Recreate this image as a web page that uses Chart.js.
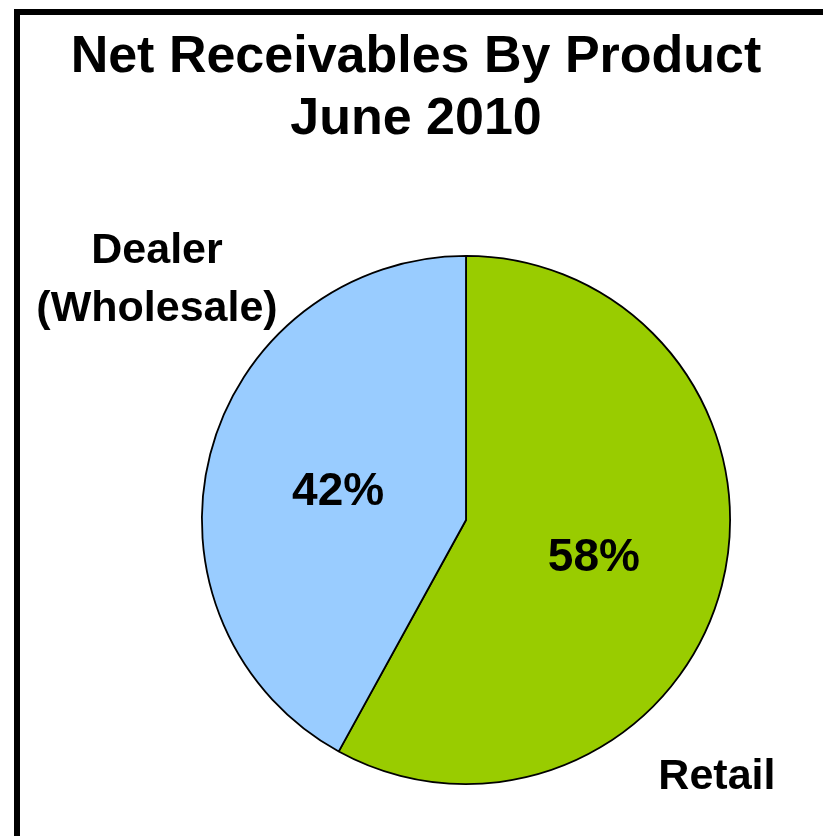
<!DOCTYPE html>
<html>
<head>
<meta charset="utf-8">
<script src="https://cdn.jsdelivr.net/npm/chart.js@4"></script>
<style>
  html, body { margin: 0; padding: 0; background: #fff; }
  #wrap { position: relative; width: 823px; height: 836px; overflow: hidden; }
  #frame { position: absolute; left: 14px; top: 9px; width: 900px; height: 900px;
           border-left: 6px solid #000; border-top: 6px solid #000; box-sizing: border-box; }
  canvas { position: absolute; left: 0; top: 0; }
</style>
</head>
<body>
<div id="wrap">
  <div id="frame"></div>
  <canvas id="pie" width="823" height="836"></canvas>
</div>
<script>
// Net receivables split, June 2010
const titleLines = ['Net Receivables By Product', 'June 2010'];
const products = ['Retail', 'Dealer (Wholesale)'];
const productLabels = [['Retail'], ['Dealer', '(Wholesale)']];
const shares = [58, 42];
const colors = ['#99CC00', '#99CCFF'];

const FONT = '"Liberation Sans", Arial, Helvetica, sans-serif';

// outside label anchors, as fractions of the pie radius from its centre
const labelOffsets = [
  { dx: 0.95, dy: 0.96 },
  { dx: -1.17, dy: -0.92 }
];

const textPlugin = {
  id: 'pieText',
  afterDraw(chart) {
    const c = chart.ctx;
    const meta = chart.getDatasetMeta(0);
    const arc0 = meta.data[0];
    const cx = arc0.x, cy = arc0.y, r = arc0.outerRadius;
    c.save();
    c.fillStyle = '#000';
    c.textAlign = 'center';
    c.textBaseline = 'alphabetic';

    // title
    c.font = 'bold 52px ' + FONT;
    c.fillText(titleLines[0], 416, 72);
    c.fillText(titleLines[1], 416, 134);

    // percentages inside the slices
    c.font = 'bold 46px ' + FONT;
    meta.data.forEach((arc, i) => {
      const p = arc.getCenterPoint();
      c.fillText(shares[i] + '%', p.x, p.y + 18);
    });

    // category names outside
    c.font = 'bold 43px ' + FONT;
    productLabels.forEach((lines, i) => {
      const o = labelOffsets[i];
      const x = cx + o.dx * r;
      const y0 = cy + o.dy * r;
      const lh = 58;
      const top = y0 - (lines.length - 1) * lh / 2;
      lines.forEach((ln, j) => c.fillText(ln, x, top + j * lh + 15));
    });
    c.restore();
  }
};

new Chart(document.getElementById('pie'), {
  type: 'pie',
  data: {
    labels: products,
    datasets: [{
      data: shares,
      backgroundColor: colors,
      borderColor: '#000',
      borderWidth: 1.8,
      borderAlign: 'center'
    }]
  },
  options: {
    responsive: false,
    animation: false,
    layout: { padding: { left: 201, right: 92, top: 255, bottom: 51 } },
    plugins: {
      legend: { display: false },
      tooltip: { enabled: false },
      title: { display: false }
    }
  },
  plugins: [textPlugin]
});
</script>
</body>
</html>
